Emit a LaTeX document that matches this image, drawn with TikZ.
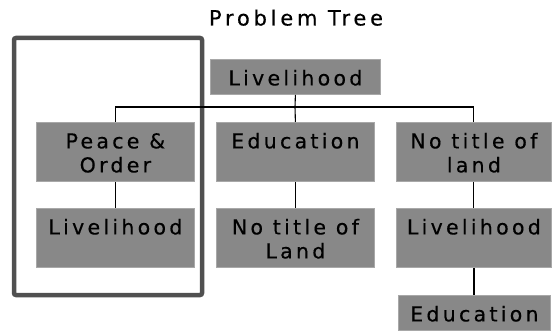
\documentclass[tikz,border=0pt]{standalone}
\usepackage{fontspec}
\setmainfont{DejaVu Sans}[LetterSpace=16,FakeBold=0.4]
\definecolor{boxfill}{HTML}{888888}
\definecolor{boxedge}{HTML}{A8A8A8}
\definecolor{frame}{HTML}{505050}
\newcommand{\bx}[3]{\parbox[t][#2pt][t]{#1pt}{\centering\rule{0pt}{26pt}#3}}
\begin{document}
\begin{tikzpicture}[x=1pt,y=-1pt,
  box/.style={fill=boxfill,draw=boxedge,line width=0.8pt,inner sep=0pt,anchor=north west,font=\fontsize{20.5}{24}\selectfont},
  conn/.style={draw=black,line width=1.1pt},
  framebox/.style={draw=frame,line width=4.5pt,rounded corners=2pt}]
\useasboundingbox (0,0) rectangle (553,331);
\node[anchor=base,font=\fontsize{21}{24}\selectfont\addfontfeature{LetterSpace=18}] (title) at (296,25.5) {Problem Tree};
\draw[framebox] (14,38) rectangle (202,295);
\node[box] (top) at (210,59) {\bx{170}{35}{Livelihood}};
\node[box] (po) at (36,122) {\bx{158}{59}{Peace \&\\Order}};
\node[box] (ed) at (216,122) {\bx{158}{59}{Education}};
\node[box] (nt) at (396,122) {\bx{155}{59}{No title of\\land}};
\node[box] (lv1) at (36,208) {\bx{158}{59}{Livelihood}};
\node[box] (ntl) at (216,208) {\bx{158}{59}{No title of\\Land}};
\node[box] (lv2) at (396,208) {\bx{155}{59}{Livelihood}};
\node[box] (ed2) at (398,295) {\bx{152}{35}{Education}};
\coordinate (bar) at (295,107);
\draw[conn] (top.south) -- (bar);
\draw[conn] (po.north) |- (bar) -| (nt.north);
\draw[conn] (bar) -- (ed.north);
\draw[conn] (po.south) -- (lv1.north);
\draw[conn] (ed.south) -- (ntl.north);
\draw[conn] (nt.south) -- (lv2.north);
\draw[conn,line width=1.8pt] (lv2.south) -- (lv2.south |- ed2.north);
\end{tikzpicture}
\end{document}
